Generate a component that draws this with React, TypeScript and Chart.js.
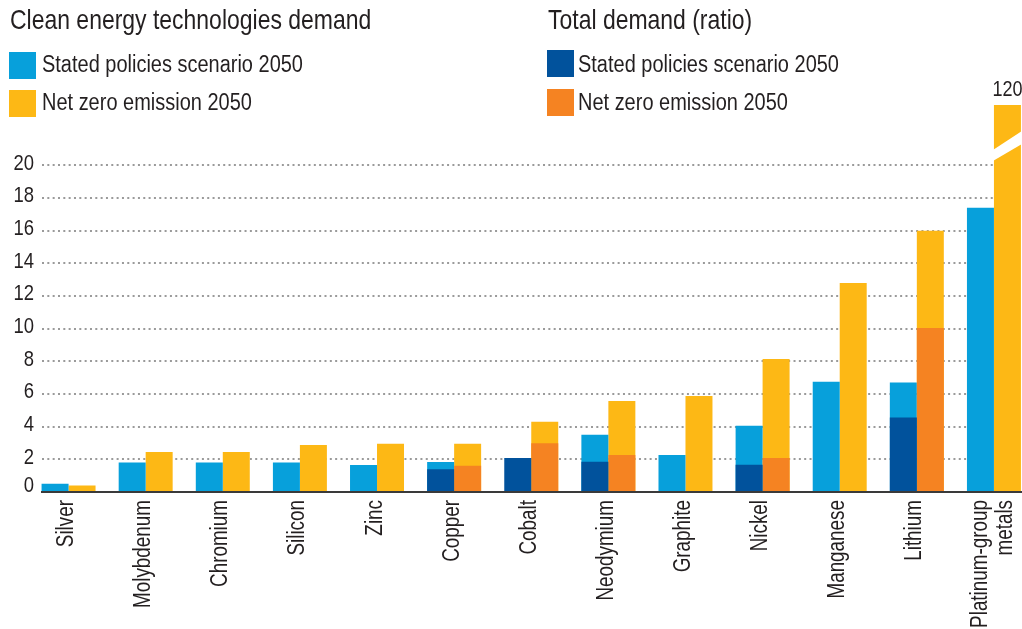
import React, { useEffect, useRef } from 'react';
import { Chart, registerables } from 'chart.js';

Chart.register(...registerables);

const FONT = "'Liberation Sans', Arial, sans-serif";
const TEXT = '#231f20';
const NARROW = 0.82;

const categories: (string | string[])[] = [
  'Silver', 'Molybdenum', 'Chromium', 'Silicon', 'Zinc', 'Copper', 'Cobalt',
  'Neodymium', 'Graphite', 'Nickel', 'Manganese', 'Lithium', ['Platinum-group', 'metals'],
];

// Clean energy technologies demand
const cleanStated = [0.5, 1.8, 1.8, 1.8, 1.65, 1.84, null, 3.5, 2.27, 4.05, 6.75, 6.7, 17.4];
const cleanNetZero = [0.4, 2.45, 2.45, 2.88, 2.95, 2.95, 4.3, 5.57, 5.88, 8.15, 12.8, 16.0, 120];
// Total demand (ratio)
const totalStated = [null, null, null, null, null, 1.4, 2.08, 1.86, null, 1.67, null, 4.57, null];
const totalNetZero = [null, null, null, null, null, 1.6, 2.98, 2.27, null, 2.08, null, 10.05, null];

const yTicks = [0, 2, 4, 6, 8, 10, 12, 14, 16, 18, 20];

const C_LIGHT_BLUE = '#07a0db';
const C_YELLOW = '#fdb815';
const C_DARK_BLUE = '#01529c';
const C_ORANGE = '#f58322';

function narrowText(ctx: CanvasRenderingContext2D, s: string, x: number, y: number, rot = 0) {
  ctx.save();
  ctx.translate(x, y);
  if (rot) ctx.rotate(rot);
  ctx.scale(NARROW, 1);
  ctx.fillText(s, 0, 0);
  ctx.restore();
}

export default function App() {
  const ref = useRef<HTMLCanvasElement>(null);

  useEffect(() => {
    const canvas = ref.current;
    if (!canvas) return;

    const overlay = {
      id: 'overlay',
      beforeDatasetsDraw(chart: any) {
        const { ctx, chartArea, scales } = chart;
        const y = scales.y;
        ctx.save();
        ctx.strokeStyle = '#9a9a9a';
        ctx.lineWidth = 2;
        ctx.setLineDash([2, 3.33]);
        for (const v of yTicks) {
          if (v === 0) continue;
          const py = Math.round(y.getPixelForValue(v));
          ctx.beginPath();
          ctx.moveTo(42, py);
          ctx.lineTo(chartArea.right, py);
          ctx.stroke();
        }
        ctx.restore();
      },
      afterDatasetsDraw(chart: any) {
        const { ctx, chartArea, scales } = chart;
        const y = scales.y;
        const x = scales.x;
        ctx.save();

        // axis break on the clipped bar
        const meta = chart.getDatasetMeta(3);
        const last = meta.data[meta.data.length - 1];
        const p = last.getProps(['x', 'width'], true);
        const L = p.x - p.width / 2 - 1;
        const R = p.x + p.width / 2 + 1;
        const top = chartArea.top;
        ctx.fillStyle = '#ffffff';
        ctx.beginPath();
        ctx.moveTo(L, top + 45);
        ctx.lineTo(R, top + 26);
        ctx.lineTo(R, top + 39);
        ctx.lineTo(L, top + 56);
        ctx.closePath();
        ctx.fill();

        // value label of the clipped bar
        ctx.fillStyle = TEXT;
        ctx.font = `22px ${FONT}`;
        ctx.textAlign = 'center';
        ctx.textBaseline = 'alphabetic';
        narrowText(ctx, String(cleanNetZero[cleanNetZero.length - 1]), p.x, top - 9);

        // baseline
        const y0 = y.getPixelForValue(0);
        ctx.strokeStyle = '#3a3a3a';
        ctx.lineWidth = 2.2;
        ctx.beginPath();
        ctx.moveTo(41, y0);
        ctx.lineTo(chart.width, y0);
        ctx.stroke();

        // y tick labels
        ctx.font = `22.5px ${FONT}`;
        ctx.textAlign = 'right';
        ctx.textBaseline = 'middle';
        for (const v of yTicks) {
          const py = y.getPixelForValue(v) - (v === 0 ? 6 : 2);
          narrowText(ctx, String(v), 34, py);
        }

        // x category labels (rotated)
        ctx.font = `23px ${FONT}`;
        ctx.textAlign = 'right';
        ctx.textBaseline = 'alphabetic';
        categories.forEach((lab, i) => {
          const px = x.getPixelForValue(i);
          const lines = Array.isArray(lab) ? lab : [lab];
          lines.forEach((ln, j) => {
            const bx = lines.length === 1 ? px + 4.5 : px - 7 + j * 25;
            narrowText(ctx, ln, bx, 500, -Math.PI / 2);
          });
        });

        ctx.restore();
      },
    };

    const chart = new Chart(canvas, {
      type: 'bar',
      data: {
        labels: categories as any,
        datasets: [
          { label: 'Total demand – Stated policies scenario 2050', data: totalStated as any, backgroundColor: C_DARK_BLUE, stack: 'a' },
          { label: 'Total demand – Net zero emission 2050', data: totalNetZero as any, backgroundColor: C_ORANGE, stack: 'b' },
          { label: 'Clean energy – Stated policies scenario 2050', data: cleanStated as any, backgroundColor: C_LIGHT_BLUE, stack: 'a' },
          { label: 'Clean energy – Net zero emission 2050', data: cleanNetZero as any, backgroundColor: C_YELLOW, stack: 'b' },
        ],
      },
      options: {
        animation: false,
        responsive: false,
        devicePixelRatio: window.devicePixelRatio || 1,
        layout: { padding: { top: 105, bottom: 137, left: 30, right: 7.5 } },
        datasets: { bar: { barPercentage: 1, categoryPercentage: 0.7, borderWidth: 0 } },
        plugins: { legend: { display: false }, tooltip: { enabled: false }, title: { display: false } },
        scales: {
          x: { type: 'category', stacked: true, display: false, offset: true },
          y: { type: 'linear', stacked: false, min: 0, max: 23.7, display: false },
        },
      },
      plugins: [overlay],
    });

    return () => chart.destroy();
  }, []);

  const sq = (left: number, top: number, color: string) => (
    <div style={{ position: 'absolute', left, top, width: 27, height: 27, background: color }} />
  );
  const txt = (left: number, baseline: number, size: number, scale: number, s: string) => (
    <div
      style={{
        position: 'absolute', left, top: baseline - 0.8465 * size, fontSize: size,
        lineHeight: `${size}px`, whiteSpace: 'nowrap', fontFamily: FONT, color: TEXT,
        transform: `scaleX(${scale})`, transformOrigin: 'left top',
      }}
    >
      {s}
    </div>
  );

  return (
    <div style={{ position: 'fixed', left: 0, top: 0, width: 1022, height: 629, overflow: 'hidden', background: '#fff' }}>
      <canvas ref={ref} width={1040} height={629} style={{ position: 'absolute', left: 0, top: 0, width: 1040, height: 629 }} />
      {txt(10, 30, 28, NARROW, 'Clean energy technologies demand')}
      {sq(9, 52, C_LIGHT_BLUE)}
      {txt(42, 73, 23.5, 0.85, 'Stated policies scenario 2050')}
      {sq(9, 90, C_YELLOW)}
      {txt(42, 111, 23.5, 0.85, 'Net zero emission 2050')}
      {txt(548, 30, 28, NARROW, 'Total demand (ratio)')}
      {sq(547, 50, C_DARK_BLUE)}
      {txt(578, 73, 23.5, 0.85, 'Stated policies scenario 2050')}
      {sq(547, 89, C_ORANGE)}
      {txt(578, 111, 23.5, 0.85, 'Net zero emission 2050')}
    </div>
  );
}
